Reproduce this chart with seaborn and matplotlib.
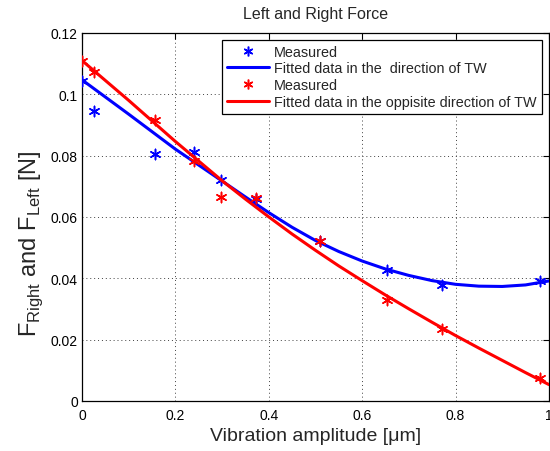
"""
Left and Right Force vs vibration amplitude
Measured points and fitted curves for both directions of TW
"""
import numpy as np
import matplotlib
matplotlib.use("Agg")
import matplotlib.pyplot as plt
import seaborn as sns

amp_um = [0.0, 0.026, 0.156, 0.240, 0.297, 0.372, 0.509, 0.653, 0.770, 0.980]
force_tw = [0.1044, 0.0944, 0.0806, 0.0811, 0.0719, 0.0657, 0.0521, 0.0428, 0.0378, 0.0392]
force_opp = [0.1107, 0.1072, 0.0917, 0.0781, 0.0665, 0.0661, 0.0520, 0.0330, 0.0233, 0.0075]

# fitted curves
fit_x = [0.0, 0.1, 0.2, 0.3, 0.35, 0.4, 0.45, 0.5, 0.55, 0.6, 0.65, 0.7,
         0.75, 0.8, 0.85, 0.9, 0.95, 1.0]
fit_tw = [0.1047, 0.0935, 0.0821, 0.0717, 0.0665, 0.0614, 0.0566, 0.0523, 0.0487,
          0.0456, 0.0430, 0.0409, 0.0392, 0.0380, 0.0374, 0.0373, 0.0378, 0.0391]
fit_opp = [0.1110, 0.0980, 0.0846, 0.0718, 0.0658, 0.0600, 0.0544, 0.0491, 0.0440,
           0.0392, 0.0345, 0.0300, 0.0256, 0.0213, 0.0172, 0.0132, 0.0092, 0.0053]

x_ticks = [0, 0.2, 0.4, 0.6, 0.8, 1.0]
x_ticklabels = ['0', '0.2', '0.4', '0.6', '0.8', '1']
y_ticks = [0, 0.02, 0.04, 0.06, 0.08, 0.10, 0.12]
y_ticklabels = ['0', '0.02', '0.04', '0.06', '0.08', '0.1', '0.12']

sns.set_theme(style="white")
plt.rcParams['font.family'] = ['Liberation Sans', 'DejaVu Sans']
plt.rcParams['mathtext.fontset'] = 'custom'
plt.rcParams['mathtext.rm'] = 'Liberation Sans'

asterisk = (6, 2, 0)

fig = plt.figure(figsize=(5.5, 4.52), dpi=100)
ax = fig.add_axes([0.149, 0.111, 0.849, 0.814])

# blue: direction of TW
sns.scatterplot(x=amp_um, y=force_tw, ax=ax, marker=asterisk, s=55,
                color='blue', edgecolor='blue', linewidth=1.1, zorder=3)
sns.lineplot(x=fit_x, y=fit_tw, ax=ax, color='blue', linewidth=2.2, zorder=3)
# red: opposite direction
sns.scatterplot(x=amp_um, y=force_opp, ax=ax, marker=asterisk, s=55,
                color='red', edgecolor='red', linewidth=1.1, zorder=4)
sns.lineplot(x=fit_x, y=fit_opp, ax=ax, color='red', linewidth=2.2, zorder=4)

ax.set_xlim(0, 1)
ax.set_ylim(0, 0.12)
ax.set_xticks(x_ticks)
ax.set_xticklabels(x_ticklabels)
ax.set_yticks(y_ticks)
ax.set_yticklabels(y_ticklabels)
ax.tick_params(direction='in', length=4, width=0.8, labelsize=10,
               top=True, right=True, colors='black', pad=3)
ax.tick_params(axis='x', pad=5)
for sp in ax.spines.values():
    sp.set_color('black')
    sp.set_linewidth(0.9)
ax.grid(True, linestyle=(0, (1, 3)), color='0.25', linewidth=0.7)

ax.set_title('Left and Right Force', fontsize=11.5, pad=11)
ax.set_xlabel('Vibration amplitude [\u03bcm]', fontsize=14, labelpad=4)
ax.set_ylabel(r'F$_{\mathrm{Right}}$ and F$_{\mathrm{Left}}$ [N]', fontsize=17)
ax.yaxis.set_label_coords(-0.08, 0.43)

# legend in plot order
h_m1 = plt.Line2D([], [], color='blue', marker=asterisk, linestyle='', markersize=7, markeredgewidth=1.1)
h_f1 = plt.Line2D([], [], color='blue', linewidth=2.2)
h_m2 = plt.Line2D([], [], color='red', marker=asterisk, linestyle='', markersize=7, markeredgewidth=1.1)
h_f2 = plt.Line2D([], [], color='red', linewidth=2.2)
leg = ax.legend([h_m1, h_f1, h_m2, h_f2],
                ['Measured', 'Fitted data in the  direction of TW',
                 'Measured', 'Fitted data in the oppisite direction of TW'],
                loc='upper right', bbox_to_anchor=(0.985, 0.982), fontsize=10.4,
                frameon=True, fancybox=False, framealpha=1, edgecolor='black',
                handlelength=2.9, handletextpad=0.35, labelspacing=0.2,
                borderpad=0.35, borderaxespad=0)
leg.get_frame().set_linewidth(0.9)

plt.savefig('out.png', dpi=100)
